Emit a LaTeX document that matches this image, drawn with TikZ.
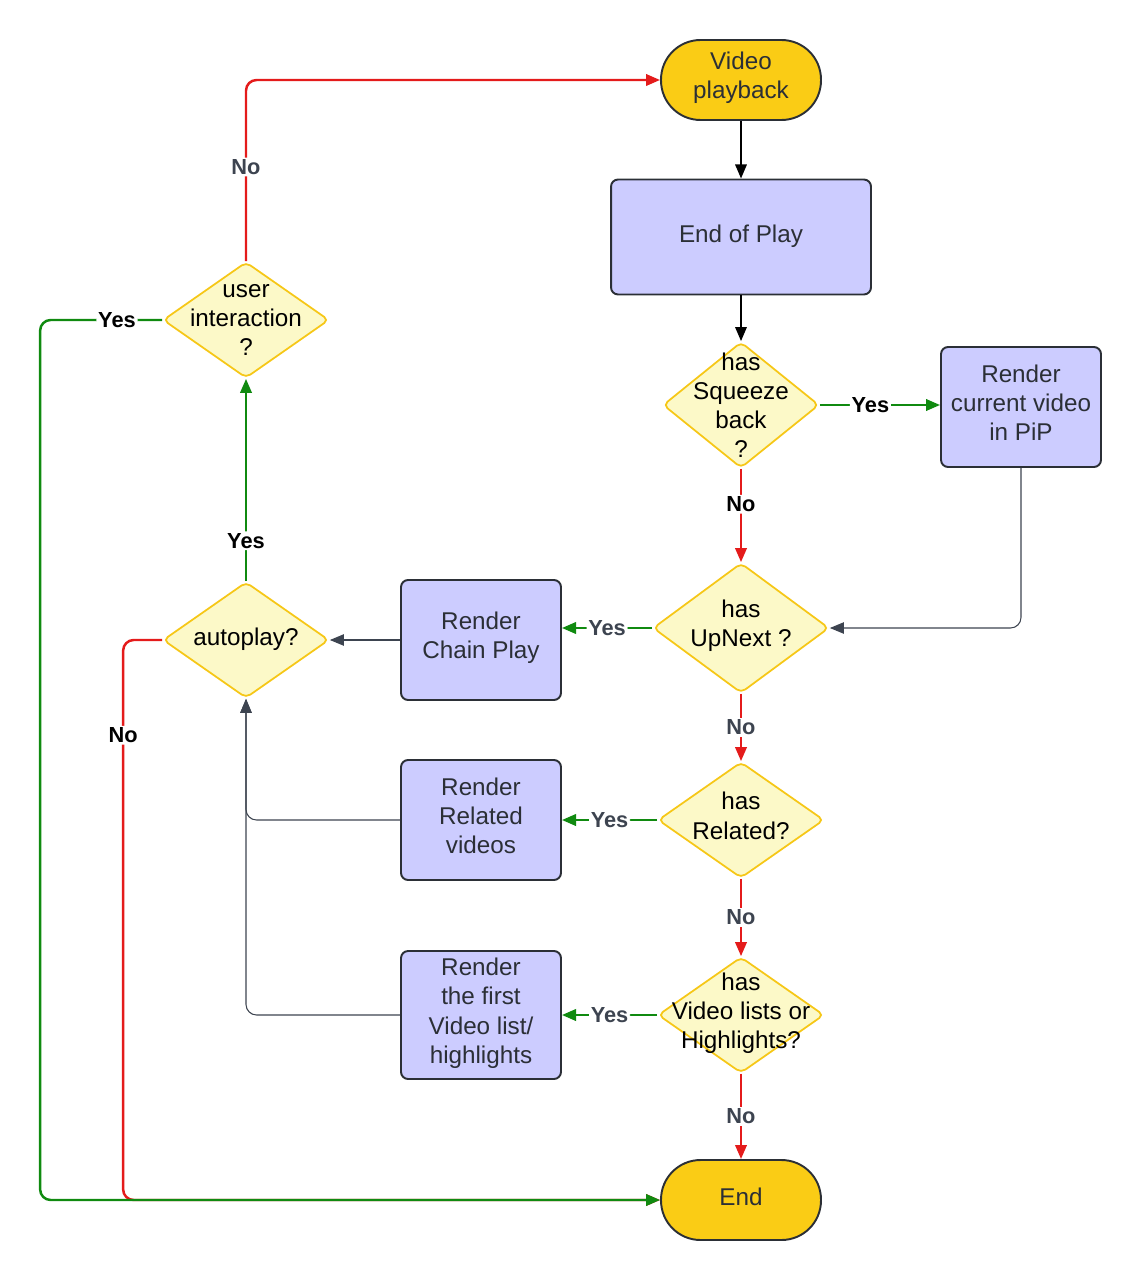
\documentclass[tikz,border=0pt]{standalone}
\usepackage{fontspec}
\setmainfont{Liberation Sans}
\usetikzlibrary{arrows.meta, shapes.geometric}
\definecolor{cgold}{HTML}{FACC15}
\definecolor{clav}{HTML}{CCCCFF}
\definecolor{cpale}{HTML}{FCF9C8}
\definecolor{cyel}{HTML}{F6C717}
\definecolor{cink}{HTML}{2B2F36}
\definecolor{cgreen}{HTML}{108A10}
\definecolor{cred}{HTML}{E41B1B}
\definecolor{cgrey}{HTML}{3D4450}
\tikzset{
  every picture/.style={font=\fontsize{13.8}{16.6}\selectfont},
  lift/.style={execute at end node=\strut},
  term/.style={draw=cink, fill=cgold, text=cink, rounded corners=0.79cm, align=center,
    minimum width=3.2cm, minimum height=1.6cm, line width=1.1pt, lift},
  box/.style={draw=cink, fill=clav, text=cink, rounded corners=4pt, align=center,
    minimum width=3.2cm, minimum height=2.4cm, inner sep=2pt, line width=1.1pt, lift},
  ask/.style={diamond, draw=cyel, fill=cpale, align=center, inner sep=-30pt, rounded corners=3pt,
    minimum width=3.32cm, minimum height=2.32cm, line width=1pt},
  flow/.style={-{Triangle[length=8pt, width=6.5pt]}, draw=black, line width=1.1pt},
  yes/.style={-{Triangle[length=8pt, width=6.5pt]}, draw=cgreen, line width=1.4pt, rounded corners=6pt},
  no/.style={-{Triangle[length=8pt, width=6.5pt]}, draw=cred, line width=1.4pt, rounded corners=6pt},
  back/.style={-{Triangle[length=8pt, width=6.5pt]}, draw=cgrey, line width=0.6pt, rounded corners=6pt},
  lbl/.style={fill=white, text=#1, inner sep=1pt, font=\bfseries\fontsize{12.4}{14}\selectfont},
  lbl/.default=black,
}
\begin{document}
\begin{tikzpicture}[x=0.02cm, y=-0.02cm]
  \useasboundingbox (0,0) rectangle (1141,1280);
  % main column
  \node[term] (play) at (741,80) {Video\\playback};
  \node[box, minimum width=5.2cm, minimum height=2.3cm] (eop) at (741,237) {End of Play};
  \node[ask, minimum width=3.12cm, minimum height=2.52cm] (sq) at (741,405) {has\\Squeeze\\back\\?};
  \node[box] (pip) at (1021,407) {Render\\current video\\in PiP};
  \node[ask, lift, minimum width=3.52cm, minimum height=2.6cm] (un) at (741,628) {has\\UpNext ?};
  \node[box] (chain) at (481,640) {Render\\Chain Play};
  \node[ask, lift] (rel) at (741,820) {has\\Related?};
  \node[box] (rrel) at (481,820) {Render\\Related\\videos};
  \node[ask, lift] (lists) at (741,1015) {has\\Video lists or\\Highlights?};
  \node[box, minimum height=2.56cm] (first) at (481,1015) {Render\\the first\\Video list/\\highlights};
  \node[term] (end) at (741,1200) {End};
  % left column
  \node[ask, lift] (auto) at (246,640) {autoplay?};
  \node[ask] (user) at (246,320) {user\\interaction\\?};
  % connectors
  \draw[flow] (play) -- (eop);
  \draw[flow] (eop) -- (sq);
  \draw[yes] (sq.east) -- node[lbl, pos=0.42] {Yes} (sq.east -| pip.west);
  \draw[no] (sq) -- node[lbl, pos=0.38] {No} (un);
  \draw[back] (pip.south) |- (un.east);
  \draw[yes] (un.west) -- node[lbl=cgrey] {Yes} (un.west -| chain.east);
  \draw[no] (un) -- node[lbl=cgrey] {No} (rel);
  \draw[back] (chain.west) -- (auto.east);
  \draw[yes] (rel) -- node[lbl=cgrey] {Yes} (rrel);
  \draw[no] (rel) -- node[lbl=cgrey] {No} (lists);
  \draw[yes] (lists) -- node[lbl=cgrey] {Yes} (first);
  \draw[no] (lists) -- node[lbl=cgrey] {No} (end);
  \draw[back] (rrel.west) -| (auto.south);
  \draw[back] (first.west) -| (auto.south);
  \draw[yes] (auto) -- node[lbl, pos=0.2] {Yes} (user);
  \draw[no] (user.north) |- node[lbl=cgrey, pos=0.26] {No} (play.west);
  \draw[no] (auto.west) -- ++(-39,0) -- node[lbl, pos=0.17] {No} ++(0,560) -- (end.west);
  \draw[yes] (user.west) -- node[lbl, pos=0.37] {Yes} ++(-122,0) |- (end.west);
\end{tikzpicture}
\end{document}
